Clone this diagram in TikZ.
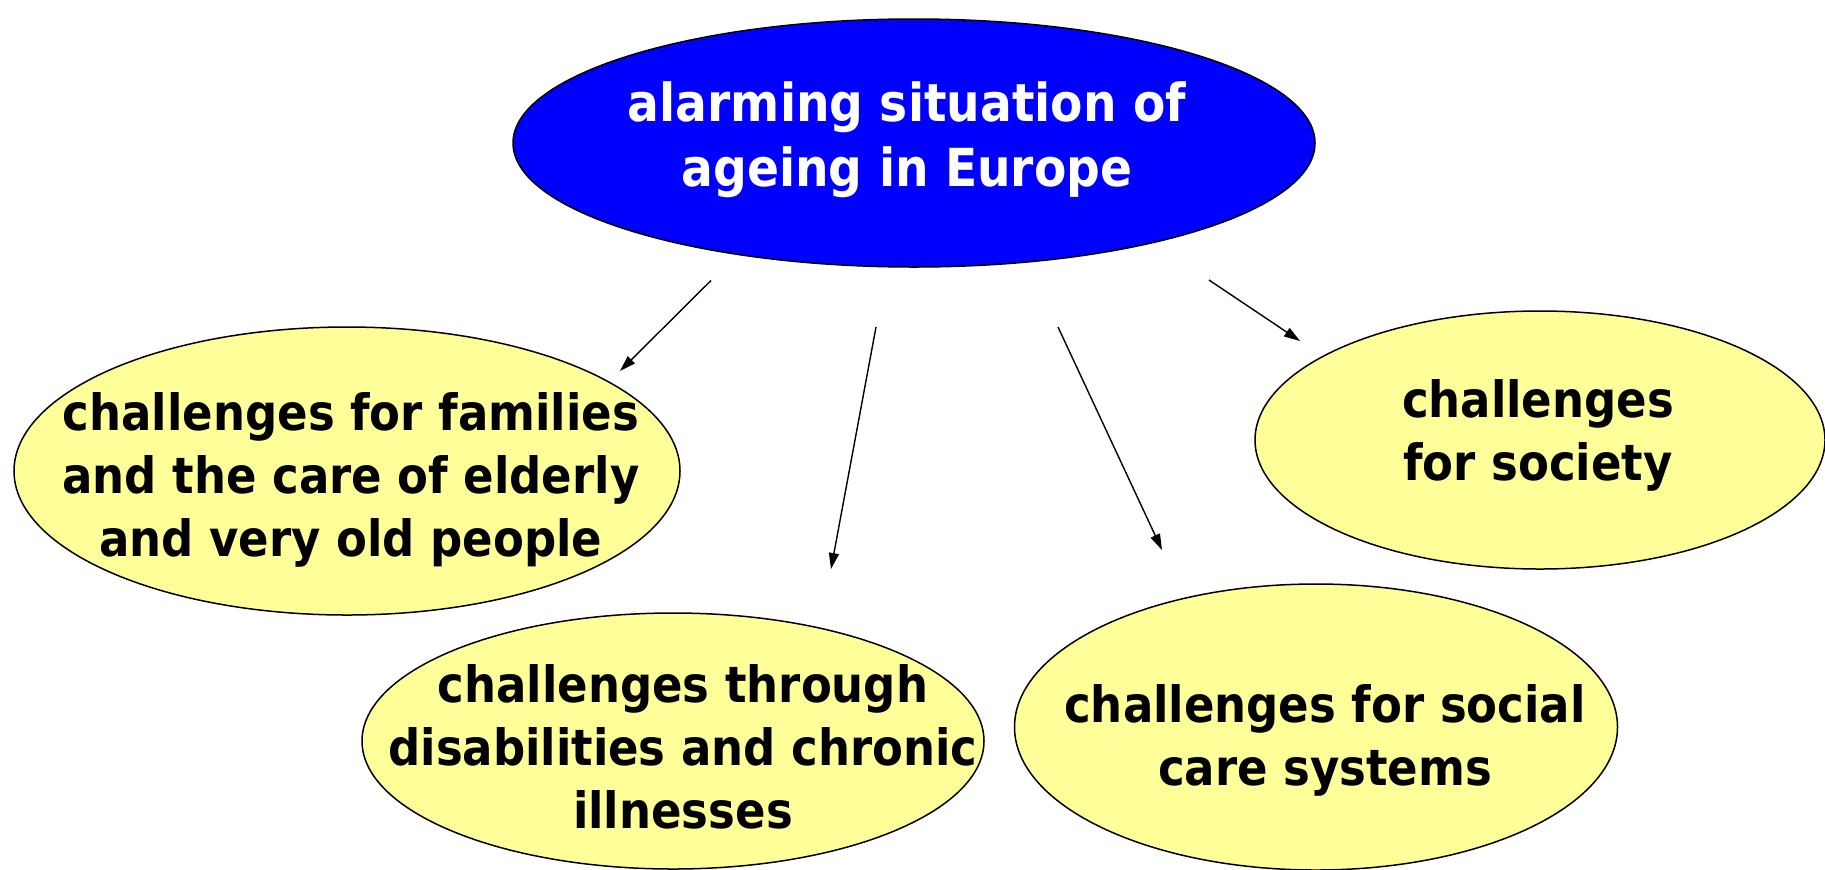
\documentclass[tikz,border=0pt]{standalone}
\usepackage{fontspec}
\setmainfont{DejaVu Sans Condensed}
\usetikzlibrary{shapes.geometric,arrows.meta}
\definecolor{bubbleyellow}{RGB}{255,255,153}
\definecolor{topblue}{RGB}{0,0,255}
\begin{document}
\begin{tikzpicture}[x=0.5pt,y=-0.5pt,
  bubble/.style={ellipse,draw=black,line width=0.75pt,inner sep=0pt,fill=bubbleyellow},
  topbubble/.style={bubble,fill=topblue},
  btext/.style={font=\bfseries\fontsize{25}{31.5}\selectfont,align=center,inner sep=0pt,text=black},
  wtext/.style={btext,font=\bfseries\fontsize{26.2}{32.5}\selectfont,text=white},
  conn/.style={line width=0.7pt,-{Triangle[length=8pt,width=5pt]}}]
\useasboundingbox (0,0) rectangle (1825,869);
% ellipses
\node[topbubble,minimum width=401pt,minimum height=124pt] (top) at (914,143) {};
\node[bubble,minimum width=333pt,minimum height=144pt] (fam) at (347,471) {};
\node[bubble,minimum width=285pt,minimum height=129pt] (soc) at (1540,440) {};
\node[bubble,minimum width=311pt,minimum height=128pt] (dis) at (673,741) {};
\node[bubble,minimum width=301.5pt,minimum height=143pt] (care) at (1316,727) {};
% texts
\node[wtext] (toptext) at (907,140) {alarming situation of\\ageing in Europe};
\node[btext] (famtext) at (351,480) {challenges for families\\and the care of elderly\\and very old people};
\node[btext] (soctext) at (1538,435) {challenges\\for society};
\node[btext] (distext) at (683,747) {challenges through\\disabilities and chronic\\illnesses};
\node[btext] (caretext) at (1325,740) {challenges for social\\care systems};
% connector end points
\coordinate (a1s) at (711,280.5);
\coordinate (a1e) at (620,371);
\coordinate (a2s) at (876,327);
\coordinate (a2e) at (831,569);
\coordinate (a3s) at (1058,327);
\coordinate (a3e) at (1162,550);
\coordinate (a4s) at (1209,280);
\coordinate (a4e) at (1300,341);
\draw[conn] (a1s) -- (a1e);
\draw[conn] (a2s) -- (a2e);
\draw[conn] (a3s) -- (a3e);
\draw[conn] (a4s) -- (a4e);
\end{tikzpicture}
\end{document}
